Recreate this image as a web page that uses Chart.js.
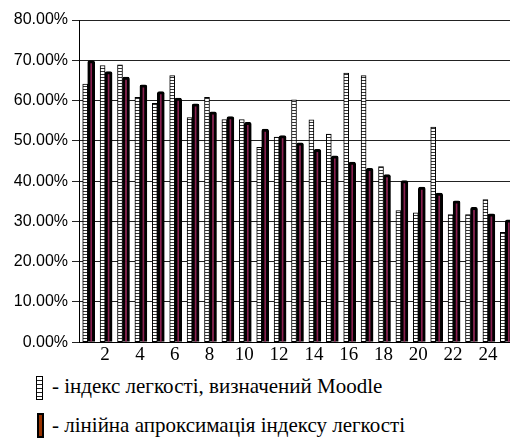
<!DOCTYPE html>
<html>
<head>
<meta charset="utf-8">
<script src="https://cdn.jsdelivr.net/npm/chart.js@4/dist/chart.umd.min.js"></script>
<style>
  body { margin: 0; background: #fff; }
  #wrap { position: relative; width: 510px; height: 439px; overflow: hidden; }
  #box { position: absolute; left: 0; top: 0; width: 514px; height: 367px; }
  .leg { position: absolute; left: 52px; font-family: "Liberation Serif", "Times New Roman", Times, Tinos, "DejaVu Serif", serif; font-size: 21px; line-height: 26px; color: #000; white-space: nowrap; }
  .ico { position: absolute; }
  #ico1 { left: 36px; top: 376px; width: 5px; height: 22px; border: 1px solid #000;
    background: repeating-linear-gradient(to bottom, #fff 0px, #fff 3px, #222 3px, #222 4px); }
  #ico2 { left: 37px; top: 413px; width: 3px; height: 21px; border: 2px solid #000; background: #993300; }
</style>
</head>
<body>
<div id="wrap">
  <div id="box"><canvas id="myChart"></canvas></div>
  <span class="ico" id="ico1"></span>
  <div class="leg" style="top:373px">- індекс легкості, визначений Moodle</div>
  <span class="ico" id="ico2"></span>
  <div class="leg" style="top:412px">- лінійна апроксимація індексу легкості</div>
</div>
<script>
// question numbers
const questions = ['1','2','3','4','5','6','7','8','9','10','11','12','13','14','15','16','17','18','19','20','21','22','23','24','25'];

// difficulty index from Moodle, %
const moodleIndex = [64.1, 68.7, 68.9, 60.8, 59.3, 66.2, 55.8, 60.8, 55.3, 55.3, 48.4, 50.9, 60.2,
                     55.2, 51.7, 66.8, 66.2, 43.6, 32.7, 32.1, 53.4, 31.7, 31.7, 35.4, 27.3];

// linear approximation, %
const linearIndex = [69.9, 67.2, 65.8, 63.9, 62.2, 60.6, 59.2, 57.2, 56.0, 54.6, 52.9, 51.3, 49.5,
                     47.9, 46.3, 44.7, 43.2, 41.6, 40.1, 38.5, 37.0, 35.1, 33.5, 31.9, 30.4];

const yTicks = [0, 10, 20, 30, 40, 50, 60, 70, 80];

const serif = '"Liberation Serif", "Times New Roman", Times, Tinos, "DejaVu Serif", serif';

// horizontal stripes for the Moodle bars
const pc = document.createElement('canvas');
pc.width = 4; pc.height = 3;
const px = pc.getContext('2d');
px.fillStyle = '#fff';
px.fillRect(0, 0, 4, 3);
px.fillStyle = '#333';
px.fillRect(0, 2, 4, 1);
const stripes = px.createPattern(pc, 'repeat');

const myChart = document.getElementById('myChart');

let barChart = new Chart(myChart, {
  type: 'bar',
  data: {
    labels: questions,
    datasets: [{
      label: 'індекс легкості, визначений Moodle',
      data: moodleIndex,
      backgroundColor: stripes,
      borderColor: '#000',
      borderWidth: 1,
      borderSkipped: false,
      barThickness: 5
    }, {
      label: 'лінійна апроксимація індексу легкості',
      data: linearIndex,
      backgroundColor: '#8a2050',
      borderColor: '#000',
      borderWidth: 3,
      borderRadius: { topLeft: 2, topRight: 2 },
      borderSkipped: 'start',
      barThickness: 7
    }]
  },
  options: {
    responsive: true,
    maintainAspectRatio: false,
    animation: false,
    layout: { padding: { top: 20, right: 0, bottom: 0, left: 0 } },
    plugins: {
      legend: { display: false },
      tooltip: { enabled: false }
    },
    scales: {
      x: {
        grid: { display: false, drawTicks: false },
        border: { color: '#000', width: 1 },
        ticks: {
          autoSkip: false,
          maxRotation: 0,
          padding: 1,
          color: '#000',
          font: { family: serif, size: 19 },
          callback: function (v, i) { return (i + 1) % 2 === 0 ? questions[i] : ''; }
        }
      },
      y: {
        min: 0,
        max: 80,
        afterBuildTicks: s => { s.ticks = yTicks.map(v => ({ value: v })); },
        afterFit: s => { s.width = 79; },
        grid: { color: '#222', lineWidth: 1, tickLength: 7 },
        border: { color: '#000', width: 1 },
        ticks: {
          padding: 4,
          color: '#000',
          font: { family: '"Liberation Sans", Arial, sans-serif', size: 16 },
          callback: v => v.toFixed(2) + '%'
        }
      }
    }
  }
});
</script>
</body>
</html>
